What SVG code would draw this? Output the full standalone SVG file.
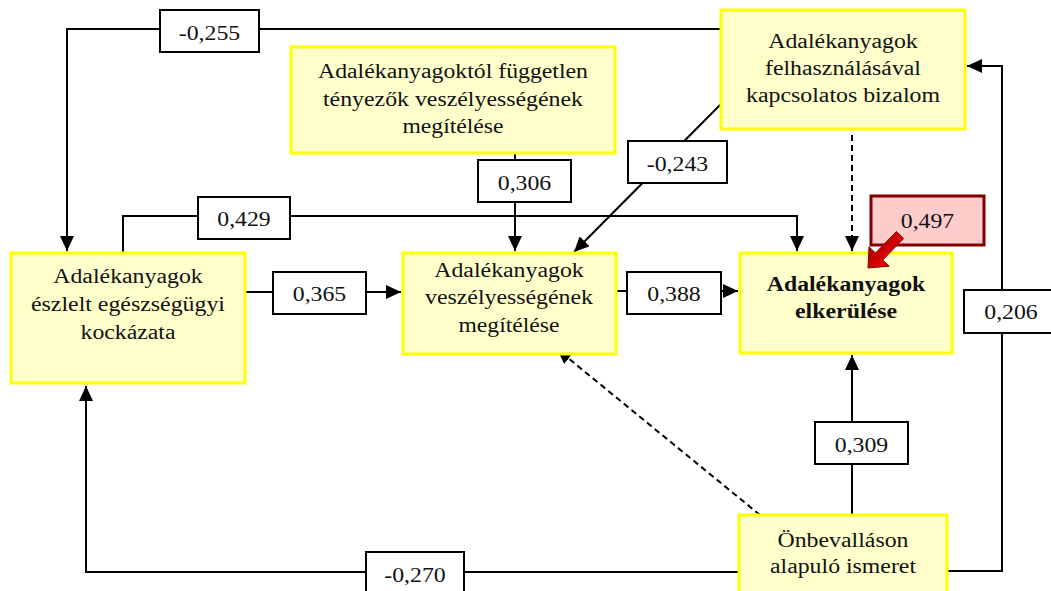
<svg xmlns="http://www.w3.org/2000/svg" width="1051" height="591" viewBox="0 0 1051 591">
<style>
.node{fill:#FFFFCC;stroke:#FFFF00;stroke-width:3}
.lbl{fill:#FFFFFF;stroke:#000;stroke-width:2}
.t{font-family:"Liberation Serif","Times New Roman",serif;font-size:20px;fill:#111;text-anchor:middle}
.b{font-weight:bold}
.c{fill:none;stroke:#000;stroke-width:2}
.d{fill:none;stroke:#000;stroke-width:2;stroke-dasharray:6 4}
</style>
<defs>
<marker id="ah" markerUnits="userSpaceOnUse" markerWidth="15" markerHeight="14" refX="15" refY="7" orient="auto">
<path d="M0,0 L15,7 L0,14 z" fill="#000"/>
</marker>
<linearGradient id="rg" x1="0" y1="0" x2="1" y2="1">
<stop offset="0" stop-color="#7a0000"/>
<stop offset="0.5" stop-color="#d00000"/>
<stop offset="1" stop-color="#ff1a1a"/>
</linearGradient>
</defs>

<g id="connectors">
<path class="c" d="M721,29 H67 V251" marker-end="url(#ah)"/>
<path class="c" d="M123,253 V216 H797 V251" marker-end="url(#ah)"/>
<path class="c" d="M515,153 V251" marker-end="url(#ah)"/>
<path class="c" d="M722,103 L574,252" marker-end="url(#ah)"/>
<path class="c" d="M245,292 H401" marker-end="url(#ah)"/>
<path class="c" d="M616,291 H738" marker-end="url(#ah)"/>
<path class="d" d="M852,135 V251" marker-end="url(#ah)"/>
<path class="c" d="M947,571 H1002 V66 H967" marker-end="url(#ah)"/>
<path class="c" d="M852,515 V355" marker-end="url(#ah)"/>
<path class="c" d="M739,572 H86 V386" marker-end="url(#ah)"/>
<path class="d" d="M760,515 L557,349" marker-end="url(#ah)"/>
</g>

<g id="labels">
<g id="l255"><rect class="lbl" x="160" y="10" width="99" height="42"/><text class="t" x="209.5" y="40" textLength="61.5" lengthAdjust="spacingAndGlyphs">-0,255</text></g>
<g id="l429"><rect class="lbl" x="198" y="197" width="92" height="42"/><text class="t" x="244" y="226" textLength="53.5" lengthAdjust="spacingAndGlyphs">0,429</text></g>
<g id="l306"><rect class="lbl" x="478" y="160" width="93" height="42"/><text class="t" x="524.5" y="190" textLength="53.5" lengthAdjust="spacingAndGlyphs">0,306</text></g>
<g id="l243"><rect class="lbl" x="628" y="141" width="99" height="42"/><text class="t" x="677.5" y="171" textLength="61.5" lengthAdjust="spacingAndGlyphs">-0,243</text></g>
<g id="l365"><rect class="lbl" x="273" y="272" width="93" height="42"/><text class="t" x="319.5" y="301" textLength="53.5" lengthAdjust="spacingAndGlyphs">0,365</text></g>
<g id="l388"><rect class="lbl" x="627" y="272" width="94" height="42"/><text class="t" x="674" y="301" textLength="53.5" lengthAdjust="spacingAndGlyphs">0,388</text></g>
<g id="l206"><rect class="lbl" x="964" y="290" width="90" height="43"/><text class="t" x="1011" y="319" textLength="53.5" lengthAdjust="spacingAndGlyphs">0,206</text></g>
<g id="l309"><rect class="lbl" x="815" y="422" width="93" height="42"/><text class="t" x="861.5" y="452" textLength="53.5" lengthAdjust="spacingAndGlyphs">0,309</text></g>
<g id="l270"><rect class="lbl" x="366" y="552" width="98" height="50"/><text class="t" x="415" y="582" textLength="61.5" lengthAdjust="spacingAndGlyphs">-0,270</text></g>
</g>

<g id="n-fuggetlen">
<rect class="node" x="291" y="47" width="324" height="106"/>
<text class="t" x="453" y="78" textLength="270" lengthAdjust="spacingAndGlyphs">Adalékanyagoktól független</text>
<text class="t" x="453" y="106" textLength="260" lengthAdjust="spacingAndGlyphs">tényezők veszélyességének</text>
<text class="t" x="453" y="133" textLength="101" lengthAdjust="spacingAndGlyphs">megítélése</text>
</g>
<g id="n-bizalom">
<rect class="node" x="721" y="10" width="244" height="119"/>
<text class="t" x="843" y="48" textLength="149.5" lengthAdjust="spacingAndGlyphs">Adalékanyagok</text>
<text class="t" x="843" y="75" textLength="156" lengthAdjust="spacingAndGlyphs">felhasználásával</text>
<text class="t" x="843" y="102" textLength="194" lengthAdjust="spacingAndGlyphs">kapcsolatos bizalom</text>
</g>
<g id="n-kockazat">
<rect class="node" x="11" y="253" width="234" height="130"/>
<text class="t" x="128" y="283" textLength="149.5" lengthAdjust="spacingAndGlyphs">Adalékanyagok</text>
<text class="t" x="128" y="311" textLength="194" lengthAdjust="spacingAndGlyphs">észlelt egészségügyi</text>
<text class="t" x="128" y="339" textLength="95" lengthAdjust="spacingAndGlyphs">kockázata</text>
</g>
<g id="n-veszely">
<rect class="node" x="403" y="253" width="213" height="101"/>
<text class="t" x="509" y="277" textLength="149.5" lengthAdjust="spacingAndGlyphs">Adalékanyagok</text>
<text class="t" x="509" y="304" textLength="168" lengthAdjust="spacingAndGlyphs">veszélyességének</text>
<text class="t" x="509" y="332" textLength="101" lengthAdjust="spacingAndGlyphs">megítélése</text>
</g>
<g id="n-elkerules">
<rect class="node" x="740" y="253" width="212" height="100"/>
<text class="t b" x="846" y="291" textLength="158.5" lengthAdjust="spacingAndGlyphs">Adalékanyagok</text>
<text class="t b" x="846" y="318" textLength="102" lengthAdjust="spacingAndGlyphs">elkerülése</text>
</g>
<g id="n-ismeret">
<rect class="node" x="739" y="515" width="208" height="90"/>
<text class="t" x="843" y="547" textLength="131" lengthAdjust="spacingAndGlyphs">Önbevalláson</text>
<text class="t" x="843" y="573" textLength="146" lengthAdjust="spacingAndGlyphs">alapuló ismeret</text>
</g>

<g id="r2">
<rect x="871" y="196" width="113" height="49" fill="#FFCCCC" stroke="#800000" stroke-width="3"/>
<text class="t" x="927.5" y="228" textLength="53.5" lengthAdjust="spacingAndGlyphs">0,497</text>
<polygon points="896.4,231.5 903.6,238.5 882.7,260 889.2,266.2 868,268 869,246.8 875.5,253" fill="url(#rg)" stroke="#8a0000" stroke-width="1"/>
</g>
</svg>
